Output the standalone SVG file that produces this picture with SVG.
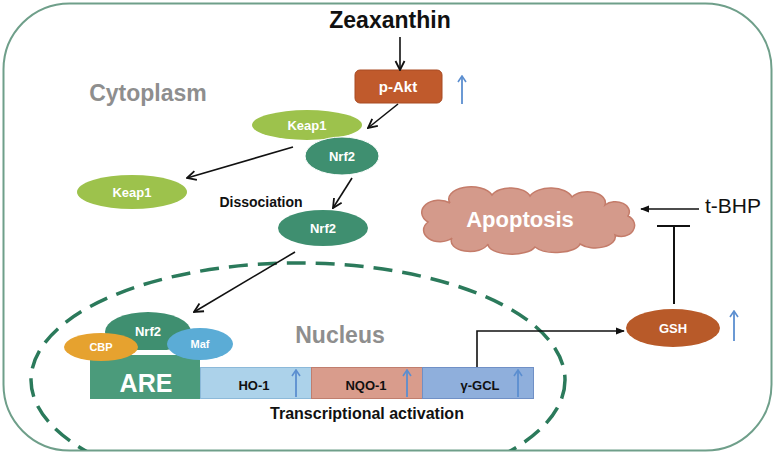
<svg xmlns="http://www.w3.org/2000/svg" width="775" height="456" viewBox="0 0 775 456">
<defs>
<style>
text{font-family:"Liberation Sans",Arial,sans-serif;font-weight:bold;text-anchor:middle}
.w{fill:#fff}
.k{fill:#111}
.g{fill:#8e8e8e}
.ln{stroke:#111;stroke-width:1.6;fill:none}
.bl{stroke:#5b8ed0;stroke-width:1.8;fill:none}
</style>
<marker id="ah" markerUnits="userSpaceOnUse" viewBox="0 0 12 12" refX="11" refY="6" markerWidth="12" markerHeight="12" orient="auto">
<path d="M2,1.5 L11,6 L2,10.5" fill="none" stroke="#111" stroke-width="1.8"/>
</marker>
<marker id="af" markerUnits="userSpaceOnUse" viewBox="0 0 10 10" refX="9" refY="5" markerWidth="9" markerHeight="9" orient="auto">
<path d="M0,1 L10,5 L0,9 Z" fill="#111"/>
</marker>
<marker id="ab" markerUnits="userSpaceOnUse" viewBox="0 0 10 10" refX="9" refY="5" markerWidth="10" markerHeight="10" orient="auto">
<path d="M3,1 L9,5 L3,9" fill="none" stroke="#5b8ed0" stroke-width="1.6"/>
</marker>
<clipPath id="clip"><rect x="3" y="3" width="769" height="447" rx="66"/></clipPath>
</defs>
<rect width="775" height="456" fill="#fff"/>
<rect id="cell" x="3.5" y="3.5" width="768" height="447" rx="66" fill="none" stroke="#6f9f8a" stroke-width="2"/>

<g id="nucleus-membrane" clip-path="url(#clip)">
<ellipse cx="298" cy="380" rx="267" ry="117" fill="none" stroke="#2b7a5b" stroke-width="3.5" stroke-dasharray="19,10"/>
</g>

<text class="g" x="148" y="101" font-size="23">Cytoplasm</text>
<text class="g" x="340" y="343" font-size="23">Nucleus</text>

<g id="zeaxanthin"><text class="k" x="390" y="28" font-size="23">Zeaxanthin</text></g>

<g id="pakt">
<rect x="355" y="70" width="87" height="33" rx="5" fill="#c05a2c" stroke="#a84a22" stroke-width="1"/>
<text class="w" x="398" y="92" font-size="15">p-Akt</text>
</g>
<g id="pakt-up"><line class="bl" x1="462" y1="104" x2="462" y2="76" marker-end="url(#ab)"/></g>

<g id="keap1-bound">
<ellipse cx="307" cy="125" rx="55" ry="15" fill="#9dc24c"/>
<text class="w" x="307" y="130" font-size="13">Keap1</text>
</g>
<g id="nrf2-bound">
<ellipse cx="342" cy="156" rx="37" ry="19" fill="#3f8f70" stroke="#fff" stroke-width="1"/>
<text class="w" x="342" y="161" font-size="13">Nrf2</text>
</g>
<g id="keap1-free">
<ellipse cx="132" cy="192" rx="55" ry="17" fill="#9dc24c"/>
<text class="w" x="132" y="197" font-size="13">Keap1</text>
</g>
<text class="k" x="261" y="207" font-size="14">Dissociation</text>
<g id="nrf2-free">
<ellipse cx="323" cy="228" rx="45" ry="18" fill="#3f8f70"/>
<text class="w" x="323" y="233" font-size="13">Nrf2</text>
</g>

<g id="apoptosis">
<path d="M428,222 A14 10 0 0 1 450,203 A22 12 0 0 1 492,195 A20 11 0 0 1 530,196 A22 12 0 0 1 572,197 A18 11 0 0 1 605,205 A14 10 0 0 1 628,216 A12 10 0 0 1 615,235 A20 11 0 0 1 580,244 A24 10 0 0 1 535,247 A24 10 0 0 1 488,244 A18 10 0 0 1 452,238 A14 10 0 0 1 428,222 Z" fill="#d49a8b" stroke="#c47c6a" stroke-width="1.5"/>
<text class="w" x="520" y="227" font-size="22">Apoptosis</text>
</g>
<g id="tbhp"><text x="733" y="213" font-size="21" style="font-weight:normal" fill="#111">t-BHP</text></g>

<g id="gsh">
<ellipse cx="673" cy="328" rx="47" ry="19" fill="#b85a29"/>
<text class="w" x="673" y="333" font-size="13">GSH</text>
</g>
<g id="gsh-up"><line class="bl" x1="734" y1="341" x2="734" y2="311" marker-end="url(#ab)"/></g>

<g id="are">
<rect x="90" y="355" width="110" height="44" fill="#4b9b7b"/>
<text class="w" x="146" y="392" font-size="25">ARE</text>
</g>
<g id="nrf2-nuclear">
<ellipse cx="148" cy="332" rx="43" ry="20" fill="#3f8f70"/>
<rect x="118" y="350" width="62" height="5" fill="#fff"/>
<text class="w" x="148" y="336" font-size="13">Nrf2</text>
</g>
<g id="cbp">
<ellipse cx="101" cy="347" rx="37" ry="14" fill="#e6a22f"/>
<text class="w" x="101" y="351" font-size="11">CBP</text>
</g>
<g id="maf">
<ellipse cx="200" cy="344" rx="33" ry="16" fill="#5bacd6"/>
<text class="w" x="200" y="348" font-size="11">Maf</text>
</g>

<g id="ho1">
<rect x="200.5" y="367.5" width="111" height="31" fill="#acd2ea" stroke="#8cb9d9" stroke-width="1"/>
<text class="k" x="254" y="390" font-size="13">HO-1</text>
<line class="bl" x1="296" y1="397" x2="296" y2="370" marker-end="url(#ab)"/>
</g>
<g id="nqo1">
<rect x="311.5" y="367.5" width="111" height="31" fill="#d99c8c" stroke="#c07e6e" stroke-width="1"/>
<text class="k" x="366" y="390" font-size="13">NQO-1</text>
<line class="bl" x1="407" y1="397" x2="407" y2="370" marker-end="url(#ab)"/>
</g>
<g id="gcl">
<rect x="422.5" y="367.5" width="111" height="31" fill="#8fafdc" stroke="#7090c6" stroke-width="1"/>
<text class="k" x="480" y="390" font-size="13">γ-GCL</text>
<line class="bl" x1="518" y1="397" x2="518" y2="370" marker-end="url(#ab)"/>
</g>
<text class="k" x="367" y="419" font-size="16">Transcriptional activation</text>

<g id="connectors">
<line class="ln" x1="400" y1="37" x2="400" y2="70" marker-end="url(#ah)"/>
<line class="ln" x1="398" y1="104" x2="368" y2="128" marker-end="url(#ah)"/>
<line class="ln" x1="293" y1="147" x2="187" y2="178" marker-end="url(#ah)"/>
<line class="ln" x1="352" y1="178" x2="333" y2="208" marker-end="url(#ah)"/>
<line class="ln" x1="295" y1="252" x2="194" y2="312" marker-end="url(#ah)"/>
<path class="ln" d="M477,367 V331 H624" marker-end="url(#af)"/>
<line class="ln" x1="699" y1="209" x2="641" y2="209" marker-end="url(#af)"/>
<path class="ln" d="M674,304 V226 M657,226 H690" style="stroke-width:2"/>
</g>
</svg>
